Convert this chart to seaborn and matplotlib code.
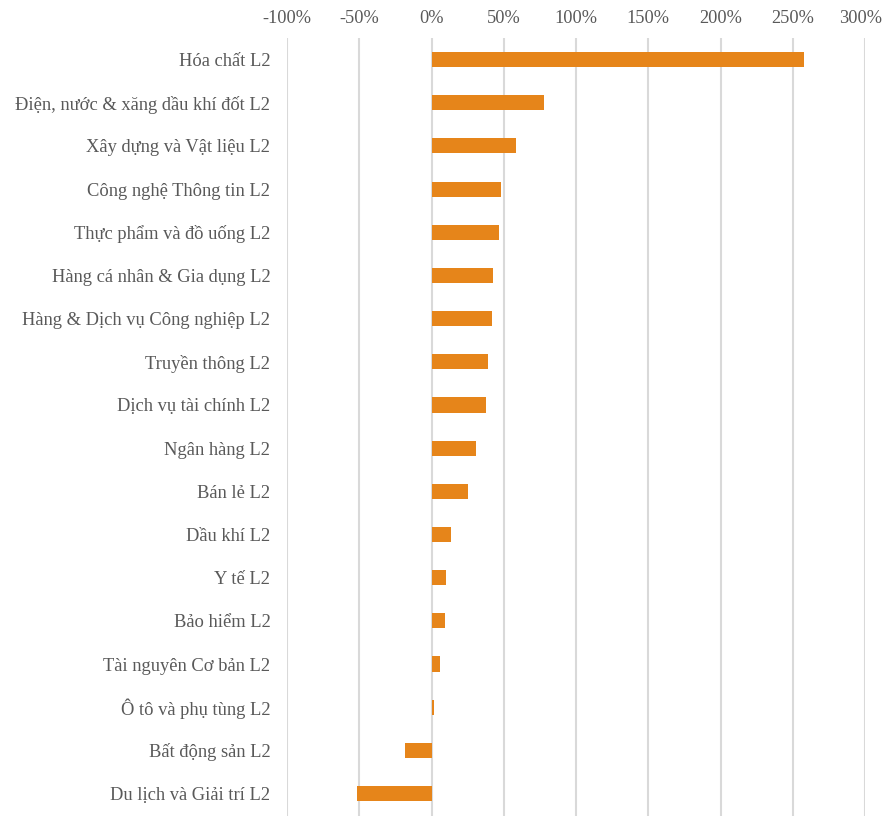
import matplotlib
matplotlib.use("Agg")
import matplotlib.pyplot as plt
import matplotlib.transforms as mtransforms
import seaborn as sns
import pandas as pd
from matplotlib.ticker import FuncFormatter

sectors = [
    "Hóa chất L2",
    "Điện, nước & xăng dầu khí đốt L2",
    "Xây dựng và Vật liệu L2",
    "Công nghệ Thông tin L2",
    "Thực phẩm và đồ uống L2",
    "Hàng cá nhân & Gia dụng L2",
    "Hàng & Dịch vụ Công nghiệp L2",
    "Truyền thông L2",
    "Dịch vụ tài chính L2",
    "Ngân hàng L2",
    "Bán lẻ L2",
    "Dầu khí L2",
    "Y tế L2",
    "Bảo hiểm L2",
    "Tài nguyên Cơ bản L2",
    "Ô tô và phụ tùng L2",
    "Bất động sản L2",
    "Du lịch và Giải trí L2",
]
changes = [257.8, 77.9, 58.7, 47.9, 47.0, 42.8, 42.2, 39.0, 38.0, 30.9,
           25.1, 13.8, 9.9, 9.0, 6.0, 2.0, -18.0, -51.8]
x_ticks = [-100, -50, 0, 50, 100, 150, 200, 250, 300]

df = pd.DataFrame({"sector": sectors, "change": changes})

sns.set_theme(style="white")
plt.rcParams["font.family"] = ["Liberation Serif", "DejaVu Serif"]
text_color = "#595959"

fig = plt.figure(figsize=(8.84, 8.16), dpi=100)
ax = fig.add_axes([287 / 884, 0.0, (865 - 287) / 884, (816 - 38) / 816])

sns.barplot(data=df, x="change", y="sector", orient="h", color="#E6851A",
            saturation=1, width=0.35, linewidth=0, ax=ax)

ax.set_xlim(-100, 300)
ax.set_ylim(len(sectors) - 0.5 + 0.02, -0.5)
ax.set_xticks(x_ticks)
ax.xaxis.set_major_formatter(FuncFormatter(lambda v, p: f"{v:.0f}%"))
ax.xaxis.tick_top()
ax.grid(axis="x", color="#d9d9d9", linewidth=1.5)
ax.grid(axis="y", visible=False)
ax.set_axisbelow(True)
for s in ax.spines.values():
    s.set_visible(False)
ax.tick_params(axis="x", length=0, pad=8, labelsize=13.2, labelcolor=text_color)
ax.tick_params(axis="y", length=0, pad=12, labelsize=13.3, labelcolor=text_color)
ax.set_xlabel("")
ax.set_ylabel("")

# keep the rightmost tick label inside the canvas
fig.canvas.draw()
last = ax.get_xticklabels()[-1]
last.set_transform(last.get_transform() +
                   mtransforms.ScaledTranslation(-4 / 100, 0, fig.dpi_scale_trans))

fig.savefig("out.png", dpi=100)
